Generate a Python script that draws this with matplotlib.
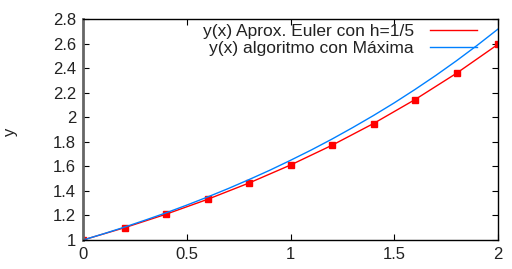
import matplotlib
matplotlib.use("Agg")
import matplotlib.pyplot as plt
from matplotlib.lines import Line2D

plt.rcParams['font.family'] = ['Liberation Sans', 'DejaVu Sans']

# Euler approximation (h = 1/5)
x_euler = [0.0, 0.2, 0.4, 0.6, 0.8, 1.0, 1.2, 1.4, 1.6, 1.8, 2.0]
y_euler = [1.0, 1.1, 1.21, 1.331, 1.4641, 1.6105, 1.7716, 1.9487, 2.1436, 2.3579, 2.5937]

# Maxima solution curve
x_exact = [0.0, 0.1, 0.2, 0.3, 0.4, 0.5, 0.6, 0.7, 0.8, 0.9, 1.0,
           1.1, 1.2, 1.3, 1.4, 1.5, 1.6, 1.7, 1.8, 1.9, 2.0]
y_exact = [1.0, 1.051, 1.105, 1.162, 1.221, 1.284, 1.350, 1.419, 1.492, 1.568, 1.649,
           1.733, 1.822, 1.916, 2.014, 2.117, 2.226, 2.340, 2.460, 2.586, 2.718]

x_ticks = [0, 0.5, 1, 1.5, 2]
x_tick_labels = ['0', '0.5', '1', '1.5', '2']
y_ticks = [1, 1.2, 1.4, 1.6, 1.8, 2, 2.2, 2.4, 2.6, 2.8]
y_tick_labels = ['1', '1.2', '1.4', '1.6', '1.8', '2', '2.2', '2.4', '2.6', '2.8']

fig = plt.figure(figsize=(5.12, 2.69), dpi=100)
ax = fig.add_axes([83/512, 29/269, 415/512, 221/269])

ax.plot(x_euler, y_euler, color='#ff0000', lw=1.0, marker='s', ms=4, mec='#ff0000', mfc='#ff0000')
ax.plot(x_exact, y_exact, color='#0080ff', lw=1.0)

ax.set_xlim(0, 2)
ax.set_ylim(1, 2.8)
ax.set_xticks(x_ticks)
ax.set_xticklabels(x_tick_labels)
ax.set_yticks(y_ticks)
ax.set_yticklabels(y_tick_labels)
ax.tick_params(direction='in', top=True, right=True, length=4, width=0.8,
               labelsize=12, labelcolor='#222222', pad=5)
for s in ['top', 'right', 'bottom']:
    ax.spines[s].set_linewidth(1.0)
    ax.spines[s].set_color('black')
ax.spines['left'].set_linewidth(2.0)
ax.spines['left'].set_color('#666666')

fig.text(10/512, 1 - 132/269, 'y', rotation=90, ha='center', va='center', fontsize=12, color='#222222')

handles = [Line2D([], [], color='#ff0000', lw=1.0),
           Line2D([], [], color='#0080ff', lw=1.0)]
labels = ['y(x) Aprox. Euler con h=1/5', 'y(x) algoritmo con Máxima']
fs = 12.5
leg = fig.legend(handles, labels, loc='upper right', frameon=False, fontsize=fs,
                 markerfirst=False, handlelength=47/(fs*100/72), handletextpad=16/(fs*100/72),
                 borderpad=0, borderaxespad=0, labelspacing=0.1,
                 bbox_to_anchor=(477/512, 1 - 24/269))
for t in leg.get_texts():
    t.set_ha('right')
    t.set_color('#222222')

fig.savefig('out.png', dpi=100)
